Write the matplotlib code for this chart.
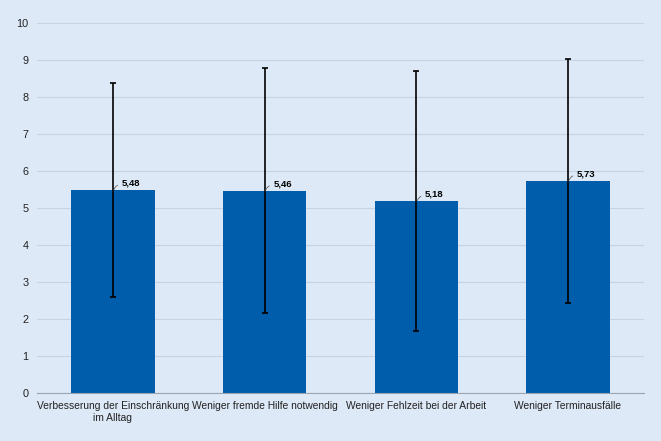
import numpy as np
import matplotlib.pyplot as plt

plt.rcParams['font.family'] = ['Liberation Sans', 'DejaVu Sans']

categories = ["Verbesserung der Einschränkung\nim Alltag", "Weniger fremde Hilfe notwendig",
              "Weniger Fehlzeit bei der Arbeit", "Weniger Terminausfälle"]
means = [5.48, 5.46, 5.18, 5.73]
sds = [2.90, 3.31, 3.51, 3.29]
labels = ["5,48", "5,46", "5,18", "5,73"]

bg = '#dde9f7'
fig = plt.figure(figsize=(6.61, 4.41), dpi=100, facecolor=bg)
ax = fig.add_axes([0.056, 0.109, 0.918, 0.839], facecolor=bg)

x = np.arange(len(categories))
ax.bar(x, means, width=0.55, color='#005dab', zorder=2)
ax.errorbar(x, means, yerr=sds, fmt='none', ecolor='black', elinewidth=1.2,
            capsize=2, capthick=1.2, zorder=3)

for xi, m, lab in zip(x, means, labels):
    ax.annotate(lab, xy=(xi + 0.008, m + 0.02), xytext=(xi + 0.058, m + 0.19),
                fontsize=6.8, fontweight='bold', va='center', ha='left',
                arrowprops=dict(arrowstyle='-', color='#666666', lw=0.6,
                                shrinkA=1, shrinkB=0,
                                connectionstyle='angle3,angleA=0,angleB=80'),
                zorder=4)

ax.set_xlim(-0.5, 3.5)
ax.set_ylim(0, 10)
ax.set_yticks(range(0, 11))
ax.set_xticks(x)
ax.set_xticklabels(categories, fontsize=7.4, color='#222222')
ax.tick_params(axis='y', labelsize=7.8, length=0, pad=6, labelcolor='#222222')
ax.tick_params(axis='x', length=0, pad=6)
ax.grid(axis='y', color='#c5d3e3', lw=0.8, zorder=0)
for s in ['top', 'right', 'left']:
    ax.spines[s].set_visible(False)
ax.spines['bottom'].set_color('#9aa4b0')

fig.savefig('out.png', dpi=100, facecolor=bg)
